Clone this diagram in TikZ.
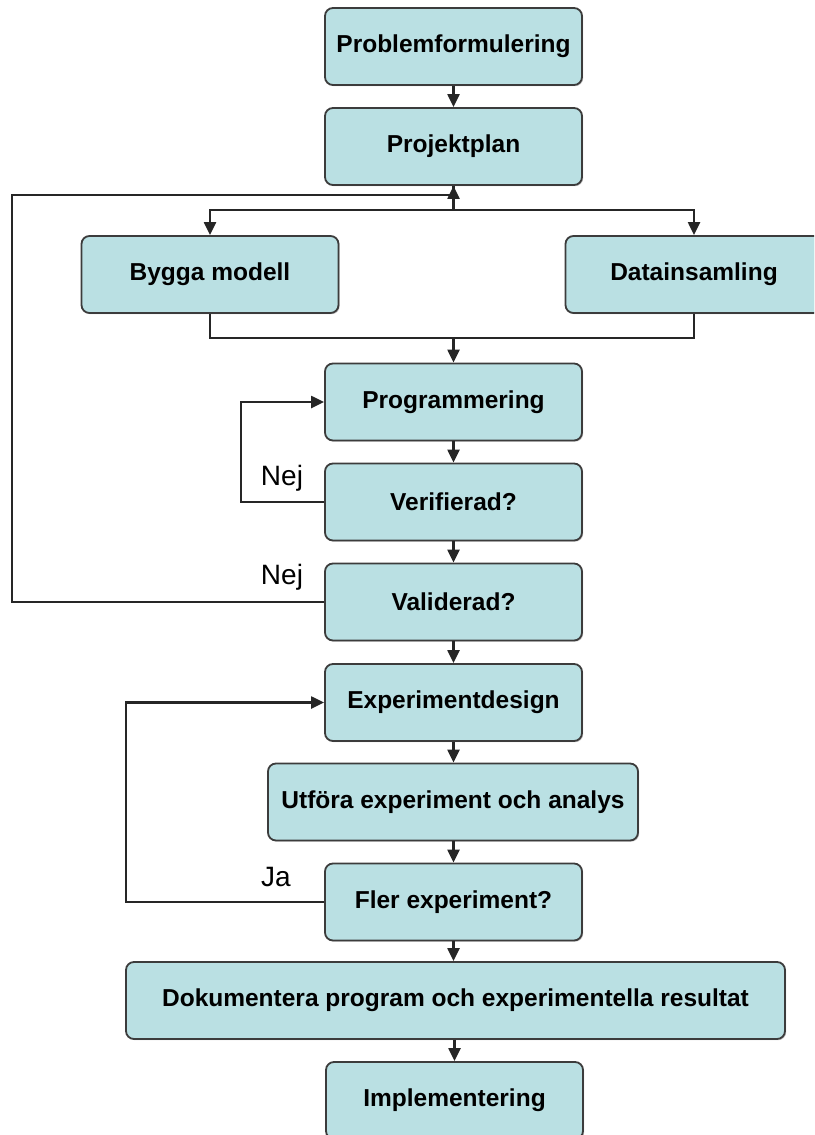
\documentclass[tikz,border=0pt]{standalone}
\usepackage{fontspec}
\setmainfont{Liberation Sans}
\usetikzlibrary{arrows.meta,shadows}
\definecolor{boxfill}{RGB}{186,224,227}
\definecolor{boxline}{RGB}{60,60,60}
\begin{document}
\begin{tikzpicture}[x=1pt,y=-1pt,
  box/.style={draw=boxline, line width=1.8pt, fill=boxfill, rounded corners=8pt,
    minimum height=77pt, minimum width=257pt, inner sep=0pt,
    font=\fontsize{24.5}{28}\selectfont\bfseries,
    drop shadow={shadow xshift=1.2pt, shadow yshift=-1.2pt, fill=black!35, opacity=0.6}},
  conn/.style={line width=2.2pt, draw=black!85},
  arr/.style={conn, -{Triangle[length=13pt,width=12pt]}},
  lbl/.style={font=\fontsize{28}{32}\selectfont, inner sep=0pt}]
\useasboundingbox (0,0) rectangle (814,1135);
\clip (0,0) rectangle (814,1135);
\fill[white] (0,0) rectangle (814,1135);

\node[box] (prob) at (453.5,46.5) {Problemformulering};
\node[box] (proj) at (453.5,146.5) {Projektplan};
\node[box] (bygga) at (210,274.5) {Bygga modell};
\node[box] (data) at (694,274.5) {Datainsamling};
\node[box] (prog) at (453.5,402) {Programmering};
\node[box] (verif) at (453.5,502) {Verifierad?};
\node[box] (valid) at (453.5,602) {Validerad?};
\node[box] (expd) at (453.5,702.5) {Experimentdesign};
\node[box, minimum width=370pt] (utf) at (453,802) {Utföra experiment och analys};
\node[box] (fler) at (453.5,902) {Fler experiment?};
\node[box, minimum width=659pt] (dok) at (455.5,1000.5) {Dokumentera program och experimentella resultat};
\node[box] (impl) at (454.5,1100.5) {Implementering};

\coordinate (br) at (453.5,210);
\coordinate (mg) at (453.5,338);
\coordinate (fb) at (12,195);
\coordinate (vl) at (241,502);
\coordinate (jl) at (126,902);

\draw[arr] (prob) -- (proj);
\draw[conn] (proj.south) -- (br);
\draw[arr] (br) -| (bygga.north);
\draw[arr] (br) -| (data.north);
\draw[conn] (bygga.south) |- (mg);
\draw[conn] (data.south) |- (mg);
\draw[arr] (mg) -- (prog.north);
\draw[arr] (prog) -- (verif);
\draw[arr] (verif) -- (valid);
\draw[arr] (valid) -- (expd);
\draw[arr] (expd) -- (utf.north -| expd.south);
\draw[arr] (utf.south -| fler.north) -- (fler);
\draw[arr] (fler.south) -- (dok.north -| fler.south);
\draw[arr] (dok.south -| impl.north) -- (impl);

\draw[arr] (verif.west) -- (vl) |- (prog.west);
\draw[arr] (valid.west) -| (fb) -| (proj.south);
\draw[arr] (fler.west) -- (jl) |- (expd.west);

\node[lbl] (nej1) at (282,478) {Nej};
\node[lbl] (nej2) at (282,577) {Nej};
\node[lbl] (ja) at (276,877) {Ja};
\end{tikzpicture}
\end{document}
